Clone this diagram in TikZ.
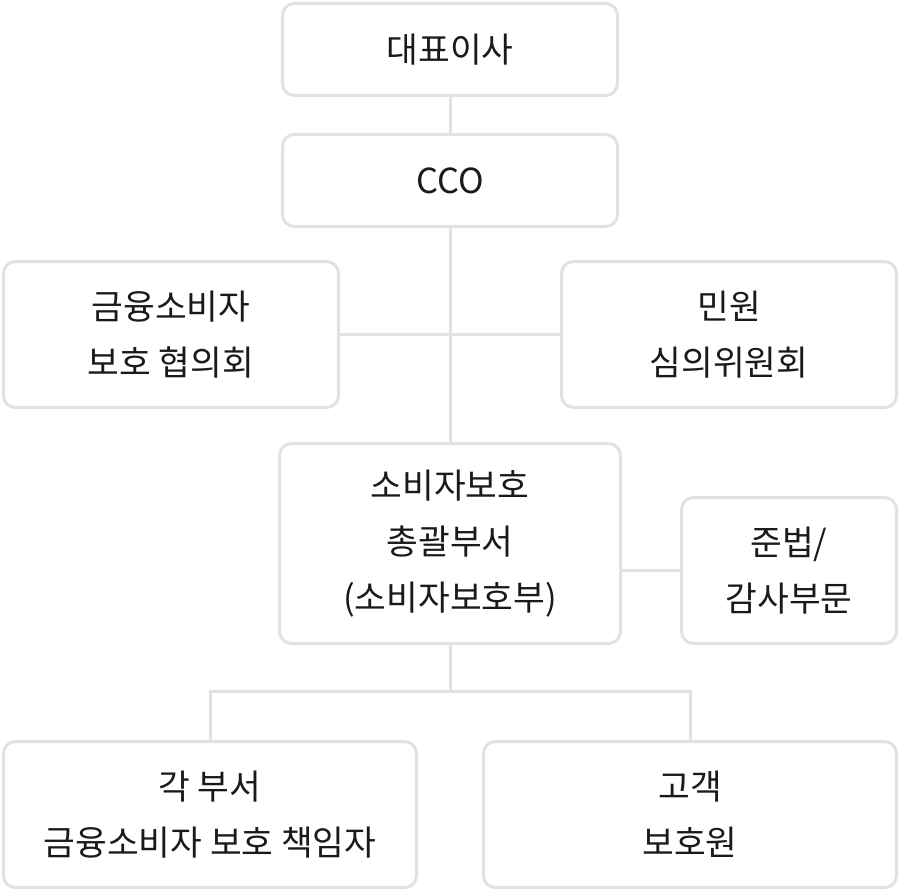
\documentclass[tikz,border=0pt]{standalone}
\usepackage{fontspec}
\setmainfont{Noto Sans CJK KR}
\usepackage{xcolor}
\usepackage{tikz}
\usetikzlibrary{positioning}

\definecolor{boxline}{HTML}{E2E2E2}
\definecolor{boxtext}{HTML}{1A1A1A}

\tikzset{
	orgbox/.style={draw=boxline, line width=3pt, rounded corners=12pt, fill=white,
		text=boxtext, align=center, minimum width=335pt, minimum height=92pt,
		inner sep=0pt, font=\fontsize{34.5}{56}\selectfont},
	link/.style={draw=boxline, line width=3pt}
}

\begin{document}
\begin{tikzpicture}[x=1pt,y=1pt]
	\useasboundingbox[fill=white] (0,0) rectangle (900,-891);

	\node[orgbox] (ceo) at (450,-49.5) {대표이사};
	\node[orgbox, below=36pt of ceo] (cco) {CCO};
	\node[orgbox, minimum height=146pt] (council) at (171,-334.5) {금융소비자\\보호 협의회};
	\node[orgbox, minimum height=146pt] (complaint) at (729,-334.5) {민원\\심의위원회};
	\node[orgbox, minimum width=341pt, minimum height=200pt] (protect) at (450,-543.5) {소비자보호\\총괄부서\\(소비자보호부)};
	\node[orgbox, minimum width=215pt, minimum height=146pt] (audit) at (789,-570.5) {준법/\\감사부문};
	\node[orgbox, minimum width=413pt, minimum height=146pt] (depts) at (210,-814.5) {각 부서\\금융소비자 보호 책임자};
	\node[orgbox, minimum width=413pt, minimum height=146pt] (guard) at (690,-814.5) {고객\\보호원};

	\coordinate[below=46pt of protect.south] (split);

	\path[link] (ceo) -- (cco);
	\path[link] (cco) -- (protect);
	\path[link] (council) -- (complaint);
	\path[link] (audit.west -| protect.east) -- (audit.west);
	\path[link] (protect.south) -- (split);
	\path[link] (split) -| (depts.north);
	\path[link] (split) -| (guard.north);
\end{tikzpicture}
\end{document}
